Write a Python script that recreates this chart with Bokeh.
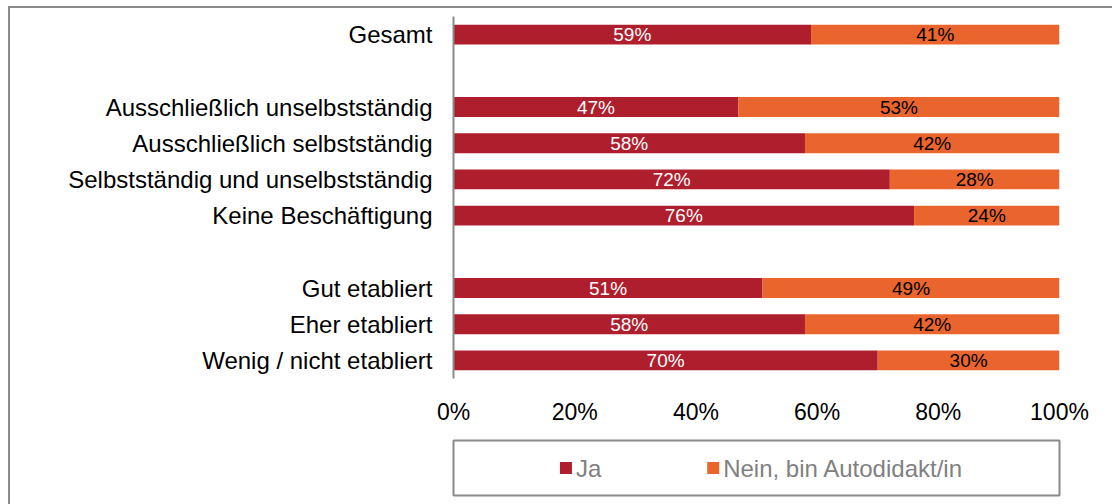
from bokeh.plotting import figure
from bokeh.models import FactorRange, Range1d, FixedTicker, ColumnDataSource
from bokeh.layouts import column
from bokeh.embed import file_html
from bokeh.resources import INLINE
from bokeh.core.properties import value

# ---------------- data ----------------
categories = ["Gesamt",
              "Ausschließlich unselbstständig",
              "Ausschließlich selbstständig",
              "Selbstständig und unselbstständig",
              "Keine Beschäftigung",
              "Gut etabliert",
              "Eher etabliert",
              "Wenig / nicht etabliert"]
group = [0, 1, 1, 1, 1, 2, 2, 2]
ja = [59, 47, 58, 72, 76, 51, 58, 70]
nein = [41, 53, 42, 28, 24, 49, 42, 30]
series_names = ["Ja", "Nein, bin Autodidakt/in"]
x_ticks = [0, 20, 40, 60, 80, 100]

RED = "#AF1E2D"
ORANGE = "#E9652D"
GRAY = "#8a8a8a"
FONT = "Liberation Sans"
LEFT_EDGE = {"box-shadow": f"-2px 0 0 0 {GRAY}"}

# factor list with blank spacer rows between groups
factors = []
for i, c in enumerate(categories):
    if i > 0 and group[i] != group[i - 1]:
        factors.append(" " * len(factors))
    factors.append(c)

src = ColumnDataSource(dict(
    cat=categories,
    ja=ja,
    nein=nein,
    total=[a + b for a, b in zip(ja, nein)],
    ja_mid=[a / 2 for a in ja],
    nein_mid=[a + b / 2 for a, b in zip(ja, nein)],
    ja_txt=[f"{a}%" for a in ja],
    nein_txt=[f"{b}%" for b in nein],
))

W = 1102

# thin strip that forms the top edge of the chart border
top_strip = figure(width=W, height=2, x_axis_type=None, y_axis_type=None,
                   output_backend="svg", toolbar_location=None,
                   min_border=0, min_border_left=0, min_border_right=0,
                   min_border_top=0, min_border_bottom=0,
                   background_fill_alpha=0, border_fill_alpha=0,
                   outline_line_color=None,
                   styles={"background-color": GRAY,
                           "box-shadow": f"-2px 0 0 0 {GRAY}"})
top_strip.xgrid.visible = False
top_strip.ygrid.visible = False

main = figure(width=W, height=420,
              y_range=FactorRange(factors=list(reversed(factors)), range_padding=0),
              x_range=Range1d(0, 100),
              output_backend="svg", toolbar_location=None,
              min_border_left=443, min_border_right=W - 443 - 606,
              min_border_top=8, min_border_bottom=50,
              styles=LEFT_EDGE)
main.outline_line_color = None
main.xgrid.visible = False
main.ygrid.visible = False

main.hbar(y="cat", left=0, right="ja", height=0.55, source=src,
          fill_color=RED, line_color=None)
main.hbar(y="cat", left="ja", right="total", height=0.55, source=src,
          fill_color=ORANGE, line_color=None)

main.text(x="ja_mid", y="cat", text="ja_txt", source=src,
          text_align="center", text_baseline="middle",
          text_color="white", text_font=value(FONT),
          text_font_size="19px")
main.text(x="nein_mid", y="cat", text="nein_txt", source=src,
          text_align="center", text_baseline="middle",
          text_color="black", text_font=value(FONT),
          text_font_size="19px")

xa = main.xaxis[0]
xa.ticker = FixedTicker(ticks=x_ticks)
xa.major_label_overrides = {t: f"{t}%" for t in x_ticks}
xa.axis_line_color = None
xa.major_tick_line_color = None
xa.minor_tick_line_color = None
xa.major_label_standoff = 14
xa.major_label_text_font = FONT
xa.major_label_text_font_size = "23px"
xa.major_label_text_color = "black"

ya = main.yaxis[0]
ya.axis_line_color = GRAY
ya.axis_line_width = 2
ya.major_tick_line_color = None
ya.minor_tick_line_color = None
ya.major_label_standoff = 15
ya.major_label_text_font = FONT
ya.major_label_text_font_size = "24px"
ya.major_label_text_color = "black"

# ---------------- legend panel (box drawn as the frame outline) ----------------
BOX_W = 609
leg = figure(width=W, height=76, x_range=Range1d(0, BOX_W), y_range=Range1d(0, 1),
             x_axis_type=None, y_axis_type=None,
             output_backend="svg", toolbar_location=None,
             min_border_left=442, min_border_right=W - 442 - BOX_W,
             min_border_top=12, min_border_bottom=9,
             styles=LEFT_EDGE)
leg.xgrid.visible = False
leg.ygrid.visible = False
leg.outline_line_color = GRAY
leg.outline_line_width = 2

legend_marker_x = [113, 261]   # layout positions of legend swatches (px inside box)
legend_src = ColumnDataSource(dict(
    mx=legend_marker_x,
    tx=[m + 10 for m in legend_marker_x],
    y=[0.5, 0.5],
    color=[RED, ORANGE],
    label=series_names,
))
leg.scatter(x="mx", y="y", source=legend_src, marker="square", size=12,
            fill_color="color", line_color=None)
leg.text(x="tx", y="y", text="label", source=legend_src,
         text_align="left", text_baseline="middle",
         text_color="#808080", text_font=value(FONT), text_font_size="24px")

layout = column(top_strip, main, leg, spacing=0,
                styles={"margin-left": "10px", "margin-top": "6px"})

open("out.html", "w").write(file_html(layout, INLINE))
